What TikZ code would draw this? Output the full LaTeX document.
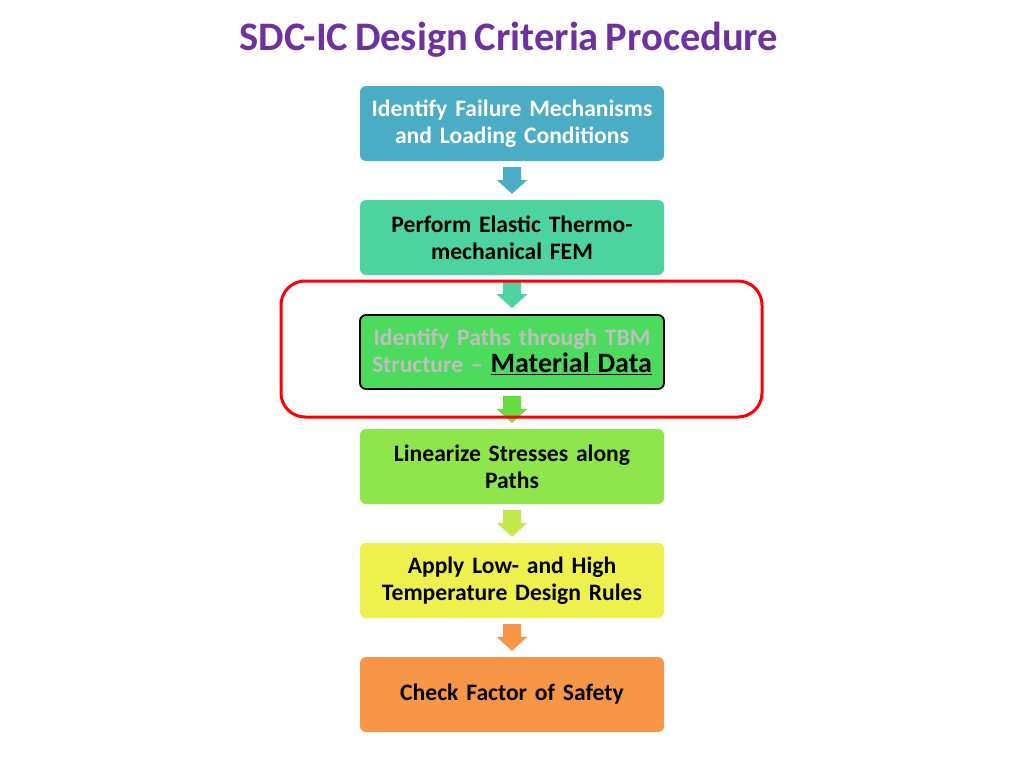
\documentclass[tikz,border=0pt]{standalone}
\usepackage{fontspec}
\setmainfont[WordSpace=0.75]{Carlito}
\usetikzlibrary{calc}
\definecolor{titlepurple}{HTML}{7030A0}
\definecolor{cblue}{HTML}{4BACC6}
\definecolor{cteal}{HTML}{4DD3A0}
\definecolor{cgreen}{HTML}{4CDB5C}
\definecolor{clime}{HTML}{8EE64C}
\definecolor{cyellow}{HTML}{EEF04E}
\definecolor{corange}{HTML}{F79646}
\definecolor{aline}{HTML}{C4E84C}
\definecolor{agreen}{HTML}{66DD44}
\definecolor{greytext}{HTML}{BFBFBF}
\tikzset{
  stepbox/.style={minimum width=304pt, minimum height=75pt, rounded corners=6pt,
    align=center, inner sep=2pt, font=\fontsize{23.6}{27}\selectfont\bfseries, text width=300pt},
}
\newcommand\flowarrow[3]{%
  \fill[#3] ($(#1.south)+(-9,-6)$) -- ($(#1.south)+(9,-6)$) -- ($(#2.north)+(9,20)$)
    -- ($(#2.north)+(15.5,20)$) -- ($(#2.north)+(0,6)$) -- ($(#2.north)+(-15.5,20)$)
    -- ($(#2.north)+(-9,20)$) -- cycle;}
\begin{document}
\begin{tikzpicture}[x=1pt,y=1pt]
\useasboundingbox (0,0) rectangle (1024,-768);
\node[text=titlepurple, font=\fontsize{40.5}{46}\selectfont\bfseries] (title) at (509,-40) {SDC-IC Design Criteria Procedure};
\node[stepbox, fill=cblue, text=white] (b1) at (512,-123.5) {Identify Failure Mechanisms\\and Loading Conditions};
\node[stepbox, fill=cteal] (b2) at (512,-237.5) {Perform Elastic Thermo-\\mechanical FEM};
\node[stepbox, fill=cgreen, draw=black, line width=1.8pt, minimum width=304pt, minimum height=74pt] (b3) at (512,-352)
  {\textcolor{greytext}{Identify Paths through TBM}\\\textcolor{greytext}{Structure --} {\fontsize{28}{27}\selectfont\underline{Material Data}}};
\node[stepbox, fill=clime] (b4) at (512,-466.5) {Linearize Stresses along\\Paths};
\node[stepbox, fill=cyellow] (b5) at (512,-580.5) {Apply Low- and High\\Temperature Design Rules};
\node[stepbox, fill=corange] (b6) at (512,-694.5) {Check Factor of Safety};
\flowarrow{b1}{b2}{cblue}
\flowarrow{b2}{b3}{cteal}
\flowarrow{b3}{b4}{agreen}
\flowarrow{b4}{b5}{aline}
\flowarrow{b5}{b6}{corange}
\draw[red, line width=3pt, rounded corners=24pt] (281,-281) rectangle (762,-417);
\end{tikzpicture}
\end{document}
